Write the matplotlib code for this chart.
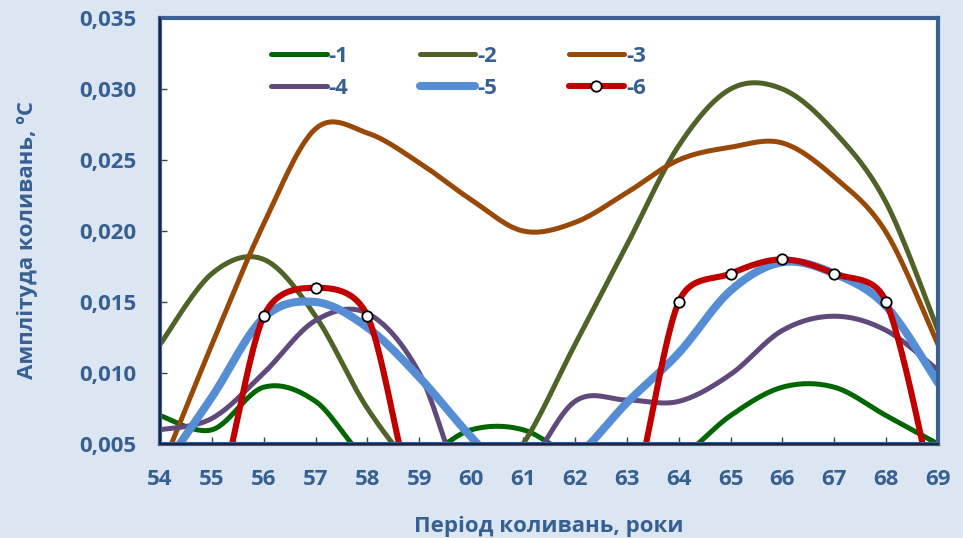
import numpy as np
import matplotlib.pyplot as plt
from matplotlib.ticker import FuncFormatter, MultipleLocator

# periods (years) and amplitudes for each series
years = list(range(54, 70))
s1 = [0.007, 0.006, 0.009, 0.008, 0.004, 0.004, 0.006, 0.006, 0.004, 0.003, 0.004, 0.007, 0.009, 0.009, 0.007, 0.005]
s2 = [0.012, 0.017, 0.018, 0.014, 0.0075, 0.003, 0.001, 0.005, 0.012, 0.019, 0.026, 0.030, 0.030, 0.027, 0.022, 0.013]
s3 = [0.003, 0.012, 0.0205, 0.0272, 0.0269, 0.0248, 0.0222, 0.020, 0.0206, 0.0227, 0.025, 0.0259, 0.0262, 0.0238, 0.0199, 0.012]
s4 = [0.006, 0.0068, 0.010, 0.0137, 0.0142, 0.010, 0.001, 0.003, 0.008, 0.0081, 0.008, 0.0099, 0.013, 0.014, 0.013, 0.0102]
s5 = [0.003, 0.0083, 0.0139, 0.015, 0.0132, 0.0097, 0.0055, 0.002, 0.004, 0.0079, 0.0114, 0.0158, 0.0178, 0.017, 0.0147, 0.0093]
s6 = [0, 0, 0.014, 0.016, 0.014, 0, 0, 0, 0, 0, 0.015, 0.017, 0.018, 0.017, 0.015, 0]
labels = ['-1', '-2', '-3', '-4', '-5', '-6']
colors = ['#006600', '#4f6228', '#984807', '#604a7b', '#558ed5', '#c00000']

BG = '#dce6f2'
TXT = '#376092'
N = 30
# pixel scale of the plot, used so the smoothing works like excel's (screen space)
SX = 778 / 15
SY = 426 / 0.030


def smooth(x, y, n=N):
    p = np.column_stack([np.asarray(x, float) * SX, np.asarray(y, float) * SY])
    pts = np.vstack([p[0], p, p[-1]])
    t = np.linspace(0, 1, n)[:, None]
    out = []
    for i in range(1, len(pts) - 2):
        p0, p1, p2, p3 = pts[i - 1], pts[i], pts[i + 1], pts[i + 2]
        d12 = np.hypot(*(p2 - p1))
        d02 = np.hypot(*(p2 - p0))
        d13 = np.hypot(*(p3 - p1))
        f0 = 1 / 6 if d02 / 6 < d12 / 2 else d12 / d02 / 2
        f1 = 1 / 6 if d13 / 6 < d12 / 2 else d12 / d13 / 2
        b1 = p1 + (p2 - p0) * f0
        b2 = p2 - (p3 - p1) * f1
        seg = (1 - t)**3 * p1 + 3 * (1 - t)**2 * t * b1 + 3 * (1 - t) * t**2 * b2 + t**3 * p2
        out.append(seg if i == 1 else seg[1:])
    c = np.vstack(out)
    return c[:, 0] / SX, c[:, 1] / SY


plt.rcParams['font.family'] = ['Open Sans', 'DejaVu Sans']
plt.rcParams['font.weight'] = 'bold'

fig = plt.figure(figsize=(9.63, 5.38), dpi=100, facecolor=BG)
ax = fig.add_axes([160 / 963, 1 - 444 / 538, 778 / 963, 426 / 538])
ax.set_facecolor('white')

series = [s1, s2, s3, s4, s5, s6]
widths = [3.6, 3.6, 3.6, 3.6, 5.8, 4.4]
handles = []
for k, s in enumerate(series):
    xs, ys = smooth(years, s)
    if k == 5:
        h, = ax.plot(xs, ys, color=colors[k], lw=widths[k], label=labels[k],
                     solid_capstyle='round', marker='o', markersize=7.5,
                     markerfacecolor='white', markeredgecolor='black', markeredgewidth=1.3,
                     markevery=[i * (N - 1) for i in range(len(years))])
    else:
        h, = ax.plot(xs, ys, color=colors[k], lw=widths[k], label=labels[k],
                     solid_capstyle='round')
    handles.append(h)

ax.set_xlim(54, 69)
ax.set_ylim(0.005, 0.035)
ax.xaxis.set_major_locator(MultipleLocator(1))
ax.yaxis.set_major_locator(MultipleLocator(0.005))
ax.yaxis.set_major_formatter(FuncFormatter(lambda v, _: f"{v:.3f}".replace('.', ',')))
ax.tick_params(axis='both', direction='in', length=5, width=1, color='#404040',
               labelcolor=TXT, labelsize=16)
ax.tick_params(axis='y', pad=17)
ax.tick_params(axis='x', pad=18)
for sp in ax.spines.values():
    sp.set_color('#3a6191')
    sp.set_linewidth(3)
# dark inner line on the left and bottom axes
ax.plot([0, 0, 1], [1, 0, 0], transform=ax.transAxes, color='#1a1a2e', lw=1.2,
        clip_on=False, zorder=5)

ax.set_xlabel('Період коливань, роки', color=TXT, fontsize=16, fontweight='bold', labelpad=19)
ax.set_ylabel('Амплітуда коливань, ºС', color=TXT, fontsize=16, fontweight='bold')
ax.yaxis.set_label_coords(-0.157, 0.479)

order = [0, 3, 1, 4, 2, 5]
ax.legend([handles[i] for i in order], [labels[i] for i in order], ncol=3,
          loc='upper left', bbox_to_anchor=(0.117, 0.982), frameon=False,
          handlelength=2.5, handletextpad=0.1, columnspacing=3.2, labelspacing=0.49,
          prop={'size': 16, 'weight': 'bold'}, labelcolor=TXT)

fig.savefig('out.png', dpi=100, facecolor=BG)
